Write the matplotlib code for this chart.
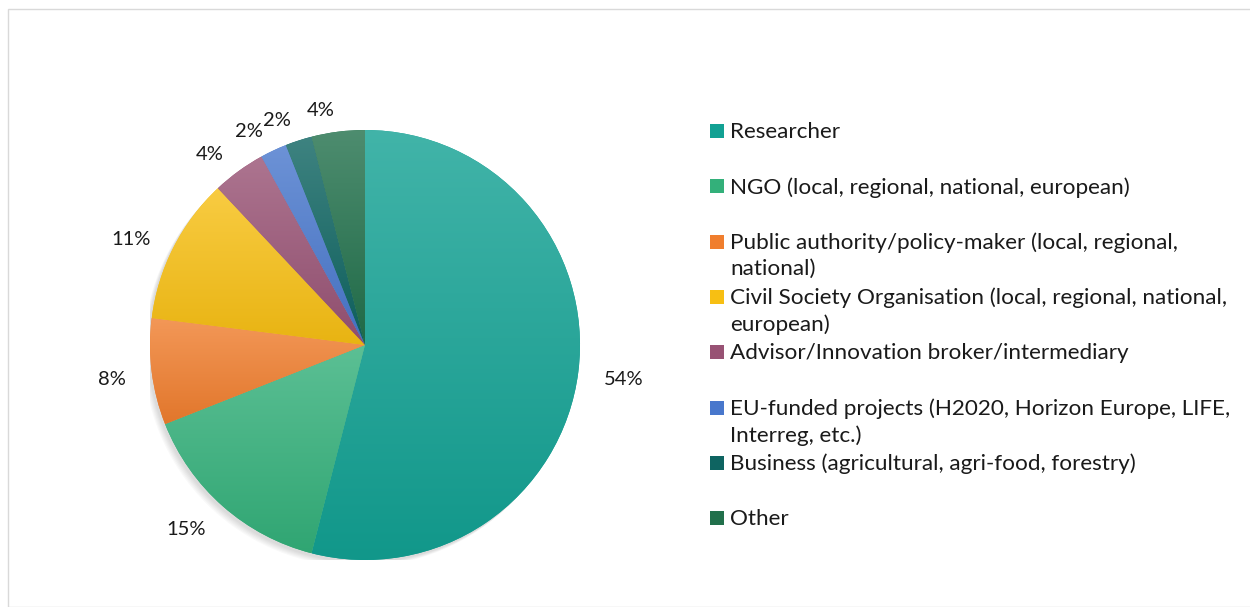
import textwrap
import numpy as np
import matplotlib
matplotlib.use("Agg")
import matplotlib.pyplot as plt
from matplotlib.patches import Rectangle, Circle
from matplotlib.colors import to_rgb

categories = [
    "Researcher",
    "NGO (local, regional, national, european)",
    "Public authority/policy-maker (local, regional, national)",
    "Civil Society Organisation (local, regional, national, european)",
    "Advisor/Innovation broker/intermediary",
    "EU-funded projects (H2020, Horizon Europe, LIFE, Interreg, etc.)",
    "Business (agricultural, agri-food, forestry)",
    "Other",
]
shares = [54, 15, 8, 11, 4, 2, 2, 4]
colors = ["#12A193", "#33B07A", "#F07E2E", "#F7BF13", "#985274",
          "#4877CC", "#0E6461", "#21704B"]

plt.rcParams["font.family"] = ["Lato", "DejaVu Sans"]

W, H = 1250, 607
fig = plt.figure(figsize=(W / 100, H / 100), dpi=100)

# chart frame
fig.patches.append(Rectangle((8 / W, 0), 1.2, 1 - 9 / H, transform=fig.transFigure,
                             fill=False, edgecolor="#D9D9D9", lw=1.0))

cx, cy, r = 365, 345, 215
ax = fig.add_axes([(cx - r) / W, (H - cy - r) / H, 2 * r / W, 2 * r / H])
ax.set_xlim(-1, 1)
ax.set_ylim(-1, 1)
ax.set_aspect("equal")
ax.axis("off")

# soft shadow
for k in range(6):
    ax.add_patch(Circle((-0.01 - 0.004 * k, -0.012 - 0.004 * k), 1.0,
                        color="black", alpha=0.025, zorder=0, lw=0))

wedges, texts = ax.pie(shares, colors=colors, startangle=90, counterclock=False,
                       radius=1, labels=[f"{s}%" for s in shares],
                       labeldistance=1.12,
                       textprops=dict(fontsize=14.5, color="#1a1a1a"),
                       wedgeprops=dict(lw=0))
for t in texts:
    x, y = t.get_position()
    t.set_position((x, y - 0.02))

# vertical gradient fill in each wedge (lighter on top)
for w, c in zip(wedges, colors):
    t = np.radians(np.linspace(w.theta1, w.theta2, 100))
    xs = np.concatenate([[0], w.r * np.cos(t)])
    ys = np.concatenate([[0], w.r * np.sin(t)])
    base = np.array(to_rgb(c))
    light = base + (1 - base) * 0.2
    dark = base * 0.94
    g = np.linspace(0, 1, 256)[:, None]
    img = (light[None, :] * (1 - g) + dark[None, :] * g)[:, None, :]
    im = ax.imshow(img, extent=[xs.min(), xs.max(), ys.min(), ys.max()],
                   aspect="auto", origin="upper", zorder=2)
    im.set_clip_path(w)
    w.set_zorder(1)

ax.set_xlim(-1, 1)
ax.set_ylim(-1, 1)

# legend on the right
y0, step = 131, 55.3
for i, (lab, c) in enumerate(zip(categories, colors)):
    y = y0 + step * i
    fig.patches.append(Rectangle((710 / W, 1 - (y + 7) / H), 14 / W, 14 / H,
                                 transform=fig.transFigure, color=c, lw=0))
    fig.text(730 / W, 1 - (y - 9) / H, textwrap.fill(lab, 55), fontsize=16.2,
             color="#1a1a1a", va="top", ha="left", linespacing=1.38)

fig.savefig("out.png", dpi=100)
